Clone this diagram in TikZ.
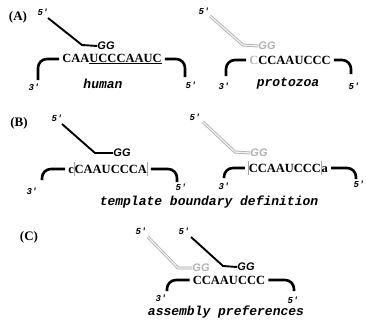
\documentclass[tikz,border=0pt]{standalone}
\usepackage{fontspec}
\setmainfont{Liberation Serif}
\newfontfamily\monof{Liberation Mono}
\newfontfamily\sansf{Liberation Sans}
\newcommand{\gbar}{\textcolor{gray!70}{\rule[-2.5pt]{0.7pt}{14pt}}}
\begin{document}
\begin{tikzpicture}[x=1pt,y=-1pt,
  seq/.style={font=\fontsize{12.5}{14}\selectfont\bfseries, inner sep=0},
  lab/.style={font=\fontsize{13}{15}\selectfont\bfseries, inner sep=0},
  prime/.style={font=\monof\fontsize{9}{10}\selectfont\bfseries\itshape, inner sep=0},
  capt/.style={font=\monof\fontsize{13}{15}\selectfont\bfseries\itshape, inner sep=0, anchor=base},
  gg/.style={font=\sansf\fontsize{11}{12}\selectfont\bfseries\itshape, inner sep=0},
  strand/.style={line width=1.9pt},
  gstrand/.style={draw=gray!65, double=gray!10, line width=0.8pt, double distance=1.3pt},
  brk/.style={line width=2.6pt, rounded corners=9pt}]
\useasboundingbox (0,0) rectangle (366,321);
% ---------- (A)
\node[lab] (labA) at (18,17) {(A)};
\node[prime] (a5) at (43,12) {5'};
\node[gg] (aGG) at (106,46) {GG};
\coordinate (aK) at (82,45);
\draw[strand] (48,18) -- (aK) -- (aGG.west);
\node[seq] (aSeq) at (112,59) {CAA\underline{UCCCAAUC}};
\node[prime] (a3) at (34,87) {3'};
\node[prime] (a5r) at (191,85) {5'};
\draw[brk] (38,80) -- (38,59) -- ([xshift=-3pt]aSeq.west);
\draw[brk] ([xshift=3pt]aSeq.east) -- (185,59) -- (185,77);
\node[capt] (human) at (103,88) {human};
% protozoa
\node[prime] (p5) at (204,11) {5'};
\node[gg, text=gray!60] (pGG) at (267,46) {GG};
\coordinate (pK) at (243,45);
\draw[gstrand] (210,16) -- (pK) -- (pGG.west);
\node[seq] (pSeq) at (290,60) {\textcolor{gray!55}{C}CCAAUCCC};
\node[prime] (p3) at (224,86) {3'};
\node[prime] (p5r) at (354,86) {5'};
\draw[brk] (226,76) -- (226,60) -- ([xshift=-3pt]pSeq.west);
\draw[brk] ([xshift=3pt]pSeq.east) -- (351,60) -- (351,74);
\node[capt] (proto) at (288,86) {protozoa};
% ---------- (B)
\node[lab] (labB) at (19,123) {(B)};
\node[prime] (b5) at (57,118) {5'};
\node[gg] (bGG) at (122,153) {GG};
\coordinate (bK) at (95,153);
\draw[strand] (62,124) -- (bK) -- (bGG.west);
\node[seq] (bSeq) at (108,169) {c\gbar CAAUCCCA\gbar};
\node[prime] (b3) at (32,191) {3'};
\node[prime] (b5r) at (181,187) {5'};
\draw[brk] (42,180) -- (42,169) -- ([xshift=-3pt]bSeq.west);
\draw[brk] ([xshift=3pt]bSeq.east) -- (177,169) -- (177,182);
% right
\node[prime] (c5) at (195,117) {5'};
\node[gg, text=gray!60] (cGG) at (259,153) {GG};
\coordinate (cK) at (235,152);
\draw[gstrand] (203,122) -- (cK) -- (cGG.west);
\node[seq] (cSeq) at (288,168) {\gbar CCAAUCCC\gbar a};
\node[prime] (c3) at (224,186) {3'};
\node[prime] (c5r) at (359,184) {5'};
\draw[brk] (224,178) -- (224,168) -- ([xshift=-3pt]cSeq.west);
\draw[brk] ([xshift=3pt]cSeq.east) -- (356,168) -- (356,179);
\node[capt] (tbd) at (209,205) {template boundary definition};
% ---------- (C)
\node[lab] (labC) at (29,237) {(C)};
\node[prime] (d5g) at (141,231) {5'};
\node[prime] (d5b) at (184,231) {5'};
\node[gg, text=gray!60] (dGGg) at (201,268) {GG};
\node[gg] (dGGb) at (246,267) {GG};
\coordinate (dKg) at (178,268);
\coordinate (dKb) at (223,266);
\draw[gstrand] (148,237) -- (dKg) -- (dGGg.west);
\draw[strand] (191,237) -- (dKb) -- (dGGb.west);
\node[seq] (dSeq) at (229,280) {CCAAUCCC};
\node[prime] (d3) at (161,298) {3'};
\node[prime] (d5r) at (293,300) {5'};
\draw[brk] (167,291) -- (167,280) -- ([xshift=-3pt]dSeq.west);
\draw[brk] ([xshift=3pt]dSeq.east) -- (294,280) -- (294,291);
\node[capt] (asm) at (226,315) {assembly preferences};
\end{tikzpicture}
\end{document}
